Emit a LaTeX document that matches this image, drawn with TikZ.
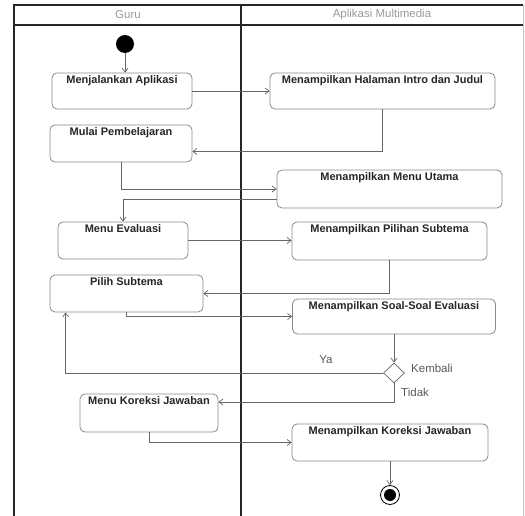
\documentclass[tikz,border=0pt]{standalone}
\usepackage{fontspec}
\setmainfont{Liberation Sans}
\usepackage{tikz}
\usetikzlibrary{shapes.geometric,calc,arrows.meta}
\definecolor{garis}{HTML}{666666}
\definecolor{tepi}{HTML}{8A8A8A}
\definecolor{judul}{HTML}{9A9A9A}
\newcommand\aksi[5]{\node[aksi,minimum width=#3pt,minimum height=#4pt] (#1) at #2 {}; \node[alabel] at (#1.north) {#5};}
\newcommand\teks[3]{\node[tlabel,anchor=#2] at #1 {#3};}

\begin{document}
\begin{tikzpicture}[x=1pt,y=-1pt]
\tikzstyle{aksi}=[draw=tepi,rounded corners=5pt,fill=white,inner sep=0pt,line width=0.8pt]
\tikzstyle{alabel}=[anchor=north,inner sep=3pt,font=\fontsize{11}{13}\selectfont\bfseries,text=black!85]
\tikzstyle{tlabel}=[inner sep=0pt,font=\fontsize{11.5}{13}\selectfont,text=black!65]
\tikzstyle{lane}=[line width=1.2pt,black!85]
\tikzstyle{alur}=[draw=garis,line width=0.7pt,-{Straight Barb[length=4pt,width=6pt]}]
\useasboundingbox (0,0) rectangle (525,516);
% swimlanes
\draw[judul!60,line width=0.6pt] (523,5) -- (523,516);
\draw[lane] (14,516) -- (14,5) -- (523,5);
\draw[lane] (14,25) -- (523,25);
\draw[lane] (241,5) -- (241,516);
\node[font=\fontsize{11.5}{13}\selectfont,text=judul] (guru) at (128,15) {Guru};
\node[font=\fontsize{11.5}{13}\selectfont,text=judul] (aplikasi) at (382,15) {Aplikasi Multimedia};
% actions
\node[circle,fill=black,inner sep=0pt,minimum size=18pt] (mulai0) at (125,44) {};
\aksi{jalankan}{(122,91)}{140}{36}{Menjalankan Aplikasi}
\aksi{intro}{(382.5,91)}{225}{36}{Menampilkan Halaman Intro dan Judul}
\aksi{belajar}{(121,143.5)}{142}{37}{Mulai Pembelajaran}
\aksi{menu}{(389.5,189)}{225}{38}{Menampilkan Menu Utama}
\aksi{evaluasi}{(123,240.5)}{130}{37}{Menu Evaluasi}
\aksi{pilihan}{(389.5,241)}{195}{38}{Menampilkan Pilihan Subtema}
\aksi{pilih}{(126.5,293.5)}{153}{37}{Pilih Subtema}
\aksi{soal}{(394,316.5)}{203}{35}{Menampilkan Soal-Soal Evaluasi}
\node[diamond,draw=garis,fill=white,inner sep=0pt,minimum width=21pt,minimum height=20pt,line width=0.7pt] (cek) at (394,373) {};
\aksi{koreksi}{(149,413)}{138}{38}{Menu Koreksi Jawaban}
\aksi{hasil}{(390,442.5)}{196}{37}{Menampilkan Koreksi Jawaban}
\node[circle,draw=black,line width=0.8pt,fill=white,inner sep=0pt,minimum size=19pt] (akhir) at (390,495) {};
\node[circle,fill=black,inner sep=0pt,minimum size=12pt] (akhirdot) at (akhir) {};
% flows
\draw[alur] (mulai0) -- (mulai0 |- jalankan.north);
\draw[alur] (jalankan.east) -- (intro.west);
\draw[alur] (intro.south) |- ($(belajar.east)+(0,8)$);
\draw[alur] (belajar.south) |- (menu.west);
\draw[alur] ($(menu.west)+(0,10)$) -| (evaluasi.north);
\draw[alur] (evaluasi.east) -- (evaluasi.east -| pilihan.west);
\draw[alur] (pilihan.south) |- (pilih.east);
\draw[alur] (pilih.south) |- (soal.west);
\draw[alur] (soal.south) -- (cek.north);
\draw[alur] (cek.west) -| ($(pilih.south west)+(16,0)$);
\draw[alur] (cek.south) |- ($(koreksi.east)+(0,-11)$);
\draw[alur] (koreksi.south) |- (hasil.west);
\draw[alur] (hasil.south) -- (akhir.north);
% guards
\teks{(326,360)}{center}{Ya}
\teks{(411,368)}{west}{Kembali}
\teks{(401,392)}{west}{Tidak}
\end{tikzpicture}
\end{document}
